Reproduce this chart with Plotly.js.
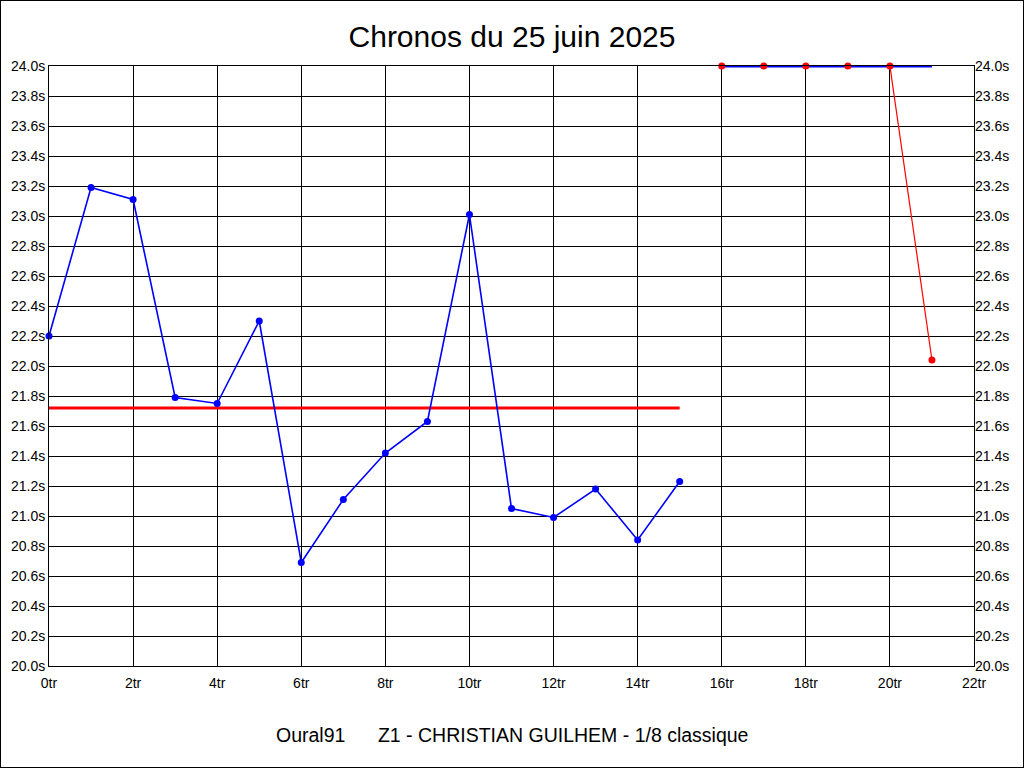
<!DOCTYPE html>
<html>
<head>
<meta charset="utf-8">
<script src="https://cdn.plot.ly/plotly-3.0.1.min.js"></script>
<style>
html,body{margin:0;padding:0;background:#fff;}
#wrap{position:relative;width:1024px;height:768px;}
#chart{position:absolute;left:0;top:0;width:1024px;height:768px;}
#frame{position:absolute;left:0;top:0;width:1024px;height:768px;box-sizing:border-box;border:1px solid #000;pointer-events:none;}
</style>
</head>
<body>
<div id="wrap"><div id="chart"></div><div id="frame"></div></div>
<script>
// Laps (tours) and times in seconds
const laps = [0,1,2,3,4,5,6,7,8,9,10,11,12,13,14,15];
const times = [22.20,23.19,23.11,21.79,21.75,22.30,20.69,21.11,21.42,21.63,23.01,21.05,20.99,21.18,20.84,21.23];
const meanX = [0,15];
const meanY = [21.72,21.72];
const extraLaps = [16,17,18,19,20,21];
const extraBlue = [24.0,24.0,24.0,24.0,24.0,24.0];
const extraRed = [24.0,24.0,24.0,24.0,24.0,22.04];
const yTicks = [20.0,20.2,20.4,20.6,20.8,21.0,21.2,21.4,21.6,21.8,22.0,22.2,22.4,22.6,22.8,23.0,23.2,23.4,23.6,23.8,24.0];
const yTickText = yTicks.map(v => v.toFixed(1) + 's');
const xTicks = [0,2,4,6,8,10,12,14,16,18,20,22];
const xTickText = xTicks.map(v => v + 'tr');

const redIdxLine = [4,5];

const traces = [
  {x: meanX, y: meanY, mode:'lines', line:{color:'#ff0000', width:3}, hoverinfo:'skip'},
  {x: laps, y: times, mode:'lines+markers', line:{color:'#0000ff', width:1.6}, marker:{color:'#0000ff', size:7}, hoverinfo:'skip', cliponaxis:false},
  {x: redIdxLine.map(i=>extraLaps[i]), y: redIdxLine.map(i=>extraRed[i]), mode:'lines', line:{color:'#ff0000', width:1.2}, hoverinfo:'skip', cliponaxis:false},
  {x: extraLaps, y: extraBlue, mode:'lines', line:{color:'#0000ff', width:3}, hoverinfo:'skip', cliponaxis:false},
  {x: extraLaps, y: extraRed, mode:'markers', marker:{color:'#ff0000', size:7}, hoverinfo:'skip', cliponaxis:false},
  {x: [0], y: [20], yaxis:'y2', mode:'markers', marker:{opacity:0}, hoverinfo:'skip', showlegend:false}
];

const font = 'Liberation Sans, Arial, sans-serif';
const layout = {
  width:1024, height:768,
  margin:{l:49, r:50, t:66, b:102},
  paper_bgcolor:'#ffffff', plot_bgcolor:'#ffffff',
  showlegend:false,
  title:{text:'Chronos du 25 juin 2025', font:{family:font, size:30, color:'#000'}, x:0.5, xanchor:'center', y:1-36/768, yanchor:'middle'},
  xaxis:{range:[0,22], tickvals:xTicks, ticktext:xTickText, showgrid:true, gridcolor:'#000', gridwidth:1,
         showline:true, linecolor:'#000', linewidth:1, mirror:true, zeroline:false, ticks:'', ticklabelstandoff:4,
         tickfont:{family:font, size:14, color:'#000'}},
  yaxis:{range:[20,24], tickvals:yTicks, ticktext:yTickText, showgrid:true, gridcolor:'#000', gridwidth:1,
         showline:true, linecolor:'#000', linewidth:1, mirror:true, zeroline:false, ticks:'',
         tickfont:{family:font, size:14, color:'#000'}},
  yaxis2:{range:[20,24], overlaying:'y', side:'right', tickvals:yTicks, ticktext:yTickText, showgrid:false,
          zeroline:false, showline:false, ticks:'', tickfont:{family:font, size:14, color:'#000'}},
  annotations:[{text:'Oural91&nbsp;&nbsp;&nbsp;&nbsp;&nbsp;&nbsp;Z1 - CHRISTIAN GUILHEM - 1/8 classique', xref:'paper', yref:'paper',
    x:0.5, y:-69/600, xanchor:'center', yanchor:'middle', showarrow:false, font:{family:font, size:19.5, color:'#000'}}]
};
Plotly.newPlot('chart', traces, layout, {displayModeBar:false, staticPlot:true});
</script>
</body>
</html>
